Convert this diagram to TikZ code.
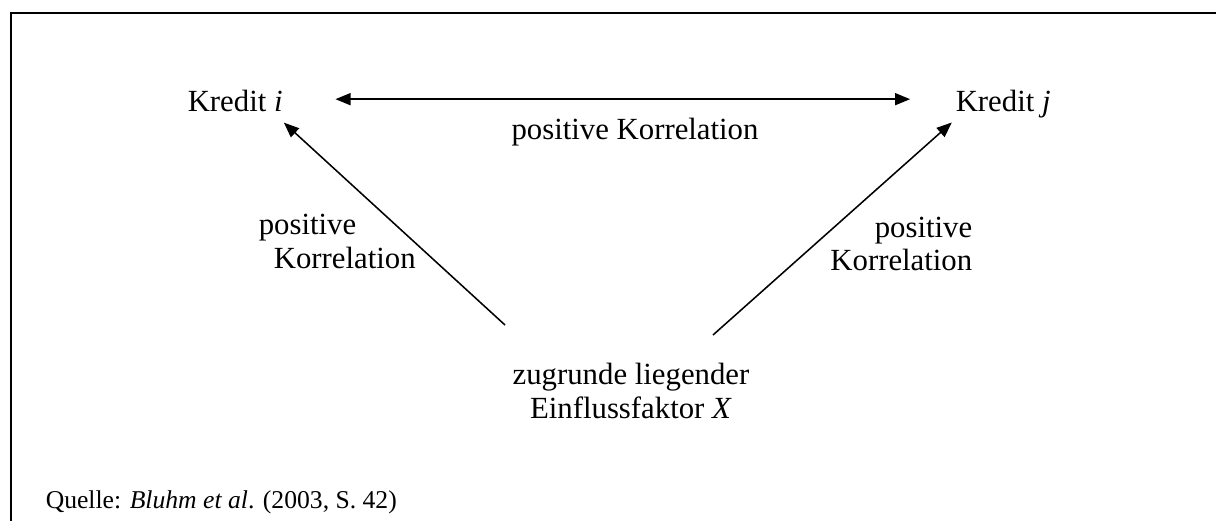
\documentclass[tikz,border=0pt]{standalone}
\usepackage{fontspec}
\setmainfont{Liberation Serif}
\usepackage{tikz}
\usetikzlibrary{arrows.meta,positioning}

\begin{document}
\begin{tikzpicture}[x=0.39pt,y=-0.39pt,line width=0.6pt,>={Triangle[length=5.9pt,width=4.7pt]}]
        \fontsize{12}{13}\selectfont
        \tikzstyle{kredit_node}=[inner sep=0pt,text height=10pt,text depth=0pt,anchor=base west]
        \tikzstyle{label_node}=[inner sep=0pt,anchor=base west]
        \useasboundingbox (0,0) rectangle (1216,521);
        % frame
        \draw[line width=0.65pt] (11,521) -- (11,13) -- (1216,13);

        \node[kredit_node]  (kredit_i) at (187,112)  {Kredit \textit{i}};
        \node[kredit_node]  (kredit_j) at (955,112)  {Kredit \textit{j}};
        \node[label_node,anchor=base]  (korr_top) at (635,140)  {positive Korrelation};

        % base anchor = baseline of the last line
        \node[label_node,align=left]  (korr_left) at (258,268)  {positive\\\hspace{5.9pt}Korrelation};
        \node[label_node,anchor=base east,align=right]  (korr_right) at (973,271)  {positive\\Korrelation\hspace{3.9pt}};

        \node[label_node,anchor=base,align=center]  (faktor) at (631,418)  {zugrunde liegender\\Einflussfaktor \textit{X}};
        \node[label_node,font=\fontsize{10}{12}\selectfont]  (quelle) at (45,508)  {Quelle: \textit{Bluhm et al}. (2003, S. 42)};

        \coordinate (src_left) at (505,325);
        \coordinate (src_right) at (713,335);

    \path[<->,shorten <=20.3pt,shorten >=17.5pt]
    (kredit_i.east) edge  node {}  (kredit_j.west);
    \path[->,shorten >=5.7pt]
    (src_left) edge  node {}  ([xshift=-4pt]kredit_i.south east)
    (src_right) edge  node {}  ([xshift=3pt]kredit_j.south west);

    \end{tikzpicture}
\end{document}
